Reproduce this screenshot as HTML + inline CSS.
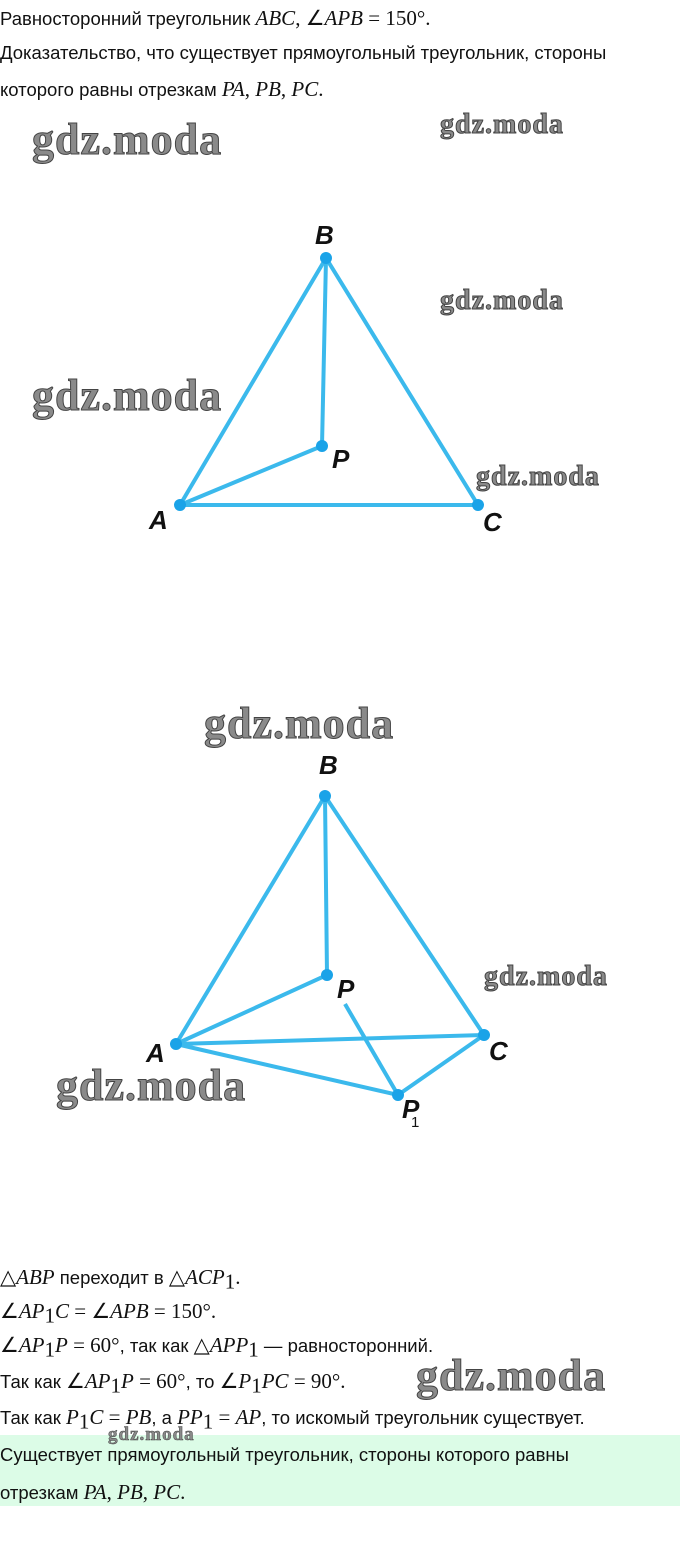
<!DOCTYPE html>
<html><head><meta charset="utf-8"><style>
body{margin:0;width:680px;height:1541px;background:#fff;position:relative;font-family:"Liberation Sans",sans-serif;color:#111;overflow:hidden}
.t{position:absolute;left:0;font-size:18.5px;white-space:nowrap;line-height:20px}
.m{font-family:"Liberation Serif",serif;font-style:italic;font-size:21px}
.r{font-family:"Liberation Serif",serif;font-size:21px}
.w{position:absolute;font-family:"Liberation Serif",serif;font-weight:bold;color:#8a8a8a;-webkit-text-stroke:1px #444;white-space:nowrap;letter-spacing:1px}
.lb{position:absolute;font-family:"Liberation Sans",sans-serif;font-style:italic;font-weight:bold;font-size:26px;color:#111}
sub{font-size:12px}
</style></head><body>
<div class="t" style="top:8px">Равносторонний треугольник <span class="m">ABC</span><span class="r">, ∠</span><span class="m">APB</span><span class="r"> = 150°.</span></div>
<div class="t" style="top:43px">Доказательство, что существует прямоугольный треугольник, стороны</div>
<div class="t" style="top:79px">которого равны отрезкам <span class="m">PA</span><span class="r">, </span><span class="m">PB</span><span class="r">, </span><span class="m">PC</span><span class="r">.</span></div>

<div class="w" style="left:32px;top:114px;font-size:44px">gdz.moda</div>
<div class="w" style="left:440px;top:109px;font-size:28px">gdz.moda</div>
<div class="w" style="left:440px;top:285px;font-size:28px">gdz.moda</div>
<div class="w" style="left:32px;top:370px;font-size:44px">gdz.moda</div>
<div class="w" style="left:476px;top:461px;font-size:28px">gdz.moda</div>
<div class="w" style="left:204px;top:698px;font-size:44px">gdz.moda</div>
<div class="w" style="left:484px;top:961px;font-size:28px">gdz.moda</div>
<div class="w" style="left:56px;top:1060px;font-size:44px">gdz.moda</div>
<div class="w" style="left:416px;top:1350px;font-size:44px">gdz.moda</div>

<svg width="680" height="1541" style="position:absolute;left:0;top:0">
<g stroke="#3bb9ec" stroke-width="4" fill="none">
<path d="M180 505L326 258L478 505Z"/><path d="M326 258L322 446L180 505"/>
<path d="M176 1044L325 796L484 1035L176 1044L398 1095L484 1035"/>
<path d="M325 796L327 975L176 1044"/><path d="M345 1004L398 1095"/>
</g>
<g fill="#1aa3e8">
<circle cx="326" cy="258" r="6"/><circle cx="322" cy="446" r="6"/><circle cx="180" cy="505" r="6"/><circle cx="478" cy="505" r="6"/>
<circle cx="325" cy="796" r="6"/><circle cx="327" cy="975" r="6"/><circle cx="176" cy="1044" r="6"/><circle cx="484" cy="1035" r="6"/><circle cx="398" cy="1095" r="6"/>
</g></svg>
<div class="lb" style="left:315px;top:220px">B</div>
<div class="lb" style="left:332px;top:444px">P</div>
<div class="lb" style="left:149px;top:505px">A</div>
<div class="lb" style="left:483px;top:507px">C</div>
<div class="lb" style="left:319px;top:750px">B</div>
<div class="lb" style="left:337px;top:974px">P</div>
<div class="lb" style="left:146px;top:1038px">A</div>
<div class="lb" style="left:489px;top:1036px">C</div>
<div class="lb" style="left:402px;top:1094px">P</div>
<div style="position:absolute;left:411px;top:1114px;font-size:15px">1</div>

<div class="t" style="top:1267px"><span class="r">△</span><span class="m">ABP</span> переходит в <span class="r">△</span><span class="m">ACP</span><sub class="r">1</sub><span class="r">.</span></div>
<div class="t" style="top:1301px"><span class="r">∠</span><span class="m">AP</span><sub class="r">1</sub><span class="m">C</span><span class="r"> = ∠</span><span class="m">APB</span><span class="r"> = 150°.</span></div>
<div class="t" style="top:1335px"><span class="r">∠</span><span class="m">AP</span><sub class="r">1</sub><span class="m">P</span><span class="r"> = 60°</span>, так как <span class="r">△</span><span class="m">APP</span><sub class="r">1</sub> — равносторонний.</div>
<div class="t" style="top:1371px">Так как <span class="r">∠</span><span class="m">AP</span><sub class="r">1</sub><span class="m">P</span><span class="r"> = 60°</span>, то <span class="r">∠</span><span class="m">P</span><sub class="r">1</sub><span class="m">PC</span><span class="r"> = 90°.</span></div>
<div class="t" style="top:1407px">Так как <span class="m">P</span><sub class="r">1</sub><span class="m">C</span><span class="r"> = </span><span class="m">PB</span>, а <span class="m">PP</span><sub class="r">1</sub><span class="r"> = </span><span class="m">AP</span>, то искомый треугольник существует.</div>
<div style="position:absolute;left:0;top:1435px;width:680px;height:71px;background:#dcfce7"></div>
<div class="t" style="top:1445px">Существует прямоугольный треугольник, стороны которого равны</div>
<div class="t" style="top:1482px">отрезкам <span class="m">PA</span><span class="r">, </span><span class="m">PB</span><span class="r">, </span><span class="m">PC</span><span class="r">.</span></div>
<div class="w" style="left:108px;top:1424px;font-size:19px;-webkit-text-stroke:0.5px #444">gdz.moda</div>
</body></html>
